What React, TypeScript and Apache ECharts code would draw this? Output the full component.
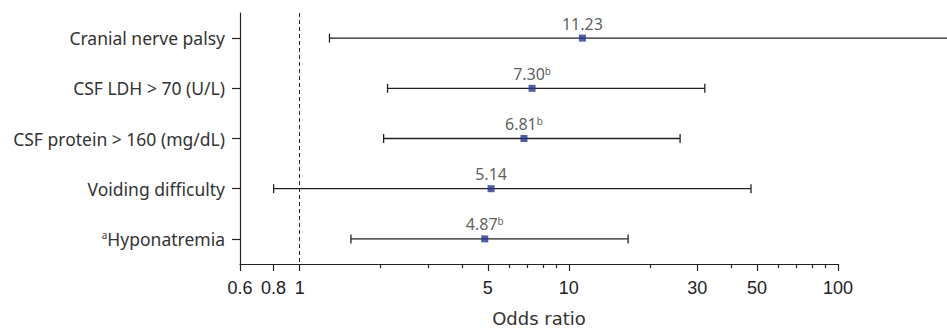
import React, { useEffect, useRef } from "react";
import * as echarts from "echarts";

const categories = [
  "Cranial nerve palsy",
  "CSF LDH > 70 (U/L)",
  "CSF protein > 160 (mg/dL)",
  "Voiding difficulty",
  "Hyponatremia",
];
const categoryPrefix = ["", "", "", "", "a"];
const oddsRatios = [11.23, 7.3, 6.81, 5.14, 4.87];
const lowerCI = [1.29, 2.12, 2.05, 0.8, 1.55];
const upperCI = [300, 32.0, 25.9, 47.5, 16.6];
const valueSuffix = ["", "b", "b", "", "b"];
const majorTickValues = [0.6, 0.8, 1, 5, 10, 30, 50, 100];
const minorTickValues = [2, 3, 4, 6, 7, 8, 9, 20, 40, 60, 70, 80, 90];
const referenceValue = 1;
const axisMin = 0.6;
const axisMax = 100;

const INK = "#222";
const TEXT = "#333";
const MARK = "#27368f";

export default function App() {
  const ref = useRef<HTMLDivElement>(null);

  useEffect(() => {
    document.body.style.margin = "0";
    if (!ref.current) return;
    const chart = echarts.init(ref.current, undefined, { renderer: "svg" });
    const lmin = Math.log10(axisMin);
    const lmax = Math.log10(axisMax);
    const labelFor = (v: number) => {
      let best = majorTickValues[0];
      for (const t of majorTickValues) {
        if (Math.abs(Math.log10(t) - v) < Math.abs(Math.log10(best) - v)) best = t;
      }
      return String(best);
    };

    const option: any = {
      animation: false,
      grid: {
        left: 240,
        right: 109,
        top: 13,
        bottom: 65,
        containLabel: false,
        outerBoundsMode: "none",
      },
      xAxis: [
        {
          type: "log",
          logBase: 10,
          min: axisMin,
          max: axisMax,
          position: "bottom",
          axisLine: { show: true, onZero: false, lineStyle: { color: INK, width: 1.2 } },
          axisTick: { show: false },
          axisLabel: { show: false },
          splitLine: { show: false },
          minorTick: { show: false },
          name: "Odds ratio",
          nameLocation: "middle",
          nameGap: 45,
          nameTextStyle: { fontFamily: "DejaVu Sans", fontSize: 18, color: TEXT },
        },
        {
          type: "value",
          min: lmin,
          max: lmax,
          position: "bottom",
          axisLine: { show: false, onZero: false },
          axisTick: {
            show: true,
            length: 7,
            customValues: majorTickValues.map((v) => Math.log10(v)),
            lineStyle: { color: INK, width: 1.2 },
          },
          axisLabel: {
            show: true,
            margin: 15,
            customValues: majorTickValues.map((v) => Math.log10(v)),
            formatter: (v: number) => labelFor(v),
            fontFamily: "Liberation Sans",
            fontSize: 18,
            color: INK,
          },
          splitLine: { show: false },
        },
        {
          type: "value",
          min: lmin,
          max: lmax,
          position: "bottom",
          axisLine: { show: false, onZero: false },
          axisTick: {
            show: true,
            length: 4,
            customValues: minorTickValues.map((v) => Math.log10(v)),
            lineStyle: { color: INK, width: 1.2 },
          },
          axisLabel: { show: false },
          splitLine: { show: false },
        },
      ],
      yAxis: {
        type: "category",
        data: categories,
        inverse: true,
        position: "left",
        axisLine: { show: true, onZero: false, lineStyle: { color: INK, width: 1.2 } },
        axisTick: { show: true, alignWithLabel: true, length: 8, lineStyle: { color: INK, width: 1.2 } },
        axisLabel: {
          margin: 15,
          fontFamily: "Noto Sans",
          fontSize: 17.5,
          color: TEXT,
          formatter: (value: string, index: number) =>
            categoryPrefix[index] ? `{sup|${categoryPrefix[index]}}${value}` : value,
          rich: {
            sup: { fontFamily: "Noto Sans", fontSize: 10, color: TEXT, verticalAlign: "top" },
          },
        },
        splitLine: { show: false },
      },
      series: [
        {
          type: "custom",
          xAxisIndex: 0,
          z: 2,
          clip: false,
          data: categories.map((_, i) => [lowerCI[i], upperCI[i], i]),
          encode: { x: [0, 1], y: 2 },
          renderItem: (params: any, api: any) => {
            const idx = api.value(2);
            const p1 = api.coord([api.value(0), idx]);
            const p2 = api.coord([api.value(1), idx]);
            const h = 4.5;
            const style = { stroke: INK, lineWidth: 1.3 };
            return {
              type: "group",
              children: [
                { type: "line", shape: { x1: p1[0], y1: p1[1], x2: p2[0], y2: p2[1] }, style },
                { type: "line", shape: { x1: p1[0], y1: p1[1] - h, x2: p1[0], y2: p1[1] + h }, style },
                { type: "line", shape: { x1: p2[0], y1: p2[1] - h, x2: p2[0], y2: p2[1] + h }, style },
              ],
            };
          },
        },
        {
          type: "scatter",
          xAxisIndex: 0,
          z: 3,
          symbol: "rect",
          symbolSize: 7,
          itemStyle: { color: MARK },
          data: categories.map((c, i) => [oddsRatios[i], c]),
          label: {
            show: true,
            position: "top",
            distance: 3,
            fontFamily: "Noto Sans",
            fontSize: 16,
            color: TEXT,
            formatter: (p: any) =>
              oddsRatios[p.dataIndex].toFixed(2) +
              (valueSuffix[p.dataIndex] ? `{sup|${valueSuffix[p.dataIndex]}}` : ""),
            rich: {
              sup: { fontFamily: "Noto Sans", fontSize: 10, color: TEXT, verticalAlign: "top" },
            },
          },
          markLine: {
            silent: true,
            symbol: "none",
            label: { show: false },
            lineStyle: { color: INK, width: 1, type: [4, 3] },
            data: [{ xAxis: referenceValue }],
          },
        },
      ],
    };
    chart.setOption(option);
    return () => chart.dispose();
  }, []);

  return <div ref={ref} style={{ width: 947, height: 329 }} />;
}
